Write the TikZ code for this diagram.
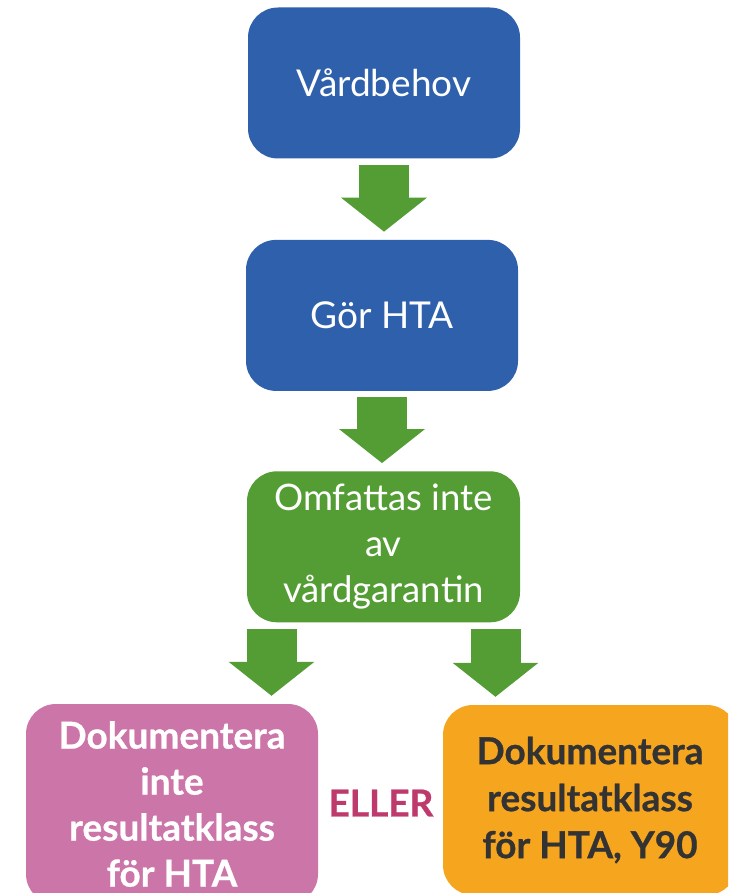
\documentclass[tikz,border=0pt]{standalone}
\usepackage{fontspec}
\setmainfont{Lato}[BoldFeatures={FakeBold=0.7}]
\usetikzlibrary{positioning}
\usetikzlibrary{arrows.meta}
\definecolor{hsblue}{HTML}{2F60AC}
\definecolor{hsgreen}{HTML}{539D34}
\definecolor{hspink}{HTML}{CB75A9}
\definecolor{hsorange}{HTML}{F6A51F}
\definecolor{hsred}{HTML}{BE3A6C}
\definecolor{hsdark}{HTML}{333333}

\begin{document}
\begin{tikzpicture}[x=1pt, y=-1pt,
                bluebox/.style={rectangle, rounded corners=30pt, fill=hsblue, text=white, minimum width=272pt, minimum height=151pt, font=\fontsize{37}{46}\selectfont},
                greenbox/.style={rectangle, rounded corners=30pt, fill=hsgreen, text=white, minimum width=273pt, minimum height=151pt, align=center, font=\fontsize{36.5}{46}\selectfont},
                pinkbox/.style={rectangle, rounded corners=30pt, fill=hspink, text=white, minimum width=292pt, minimum height=200pt, align=center, font=\fontsize{37}{46}\selectfont\bfseries},
                orangebox/.style={rectangle, rounded corners=30pt, fill=hsorange, text=hsdark, minimum width=294pt, minimum height=190pt, align=center, font=\fontsize{37}{47}\selectfont\bfseries},
                fatarrow/.style={draw=hsgreen, line width=50pt, -{Triangle[length=34pt, width=84pt]}, shorten <=6pt, shorten >=8pt},
                ]
                \useasboundingbox (0,0) rectangle (728,893);
                \clip (0,0) rectangle (728,893);

                \node[bluebox] (vard) at (384,83) {Vårdbehov};
                \node[bluebox, below=81pt of vard.south, anchor=north, xshift=-2pt] (gor) {Gör HTA};
                \node[greenbox, below=80pt of gor.south, anchor=north, xshift=1.5pt] (omf) {Omfattas inte\\av\\vårdgarantin};

                \node[pinkbox] (dokinte) at (172,804) {Dokumentera\\inte\\resultatklass\\för HTA};
                \node[orangebox] (dokklass) at (590,800) {Dokumentera\\resultatklass\\för HTA, Y90};
                \node[text=hsred, font=\fontsize{37}{40}\selectfont\bfseries] (eller) at (381,803) {ELLER};

                \coordinate (splitl) at ([xshift=-112pt]omf.south);
                \coordinate (splitr) at ([xshift=112pt]omf.south);

                \draw[fatarrow] (vard.south) -- (vard.south |- gor.north);
                \draw[fatarrow] (gor.south) -- (gor.south |- omf.north);
                \draw[fatarrow] (splitl) -- (splitl |- dokinte.north);
                \draw[fatarrow] (splitr) -- (splitr |- dokklass.north);
            \end{tikzpicture}
\end{document}
